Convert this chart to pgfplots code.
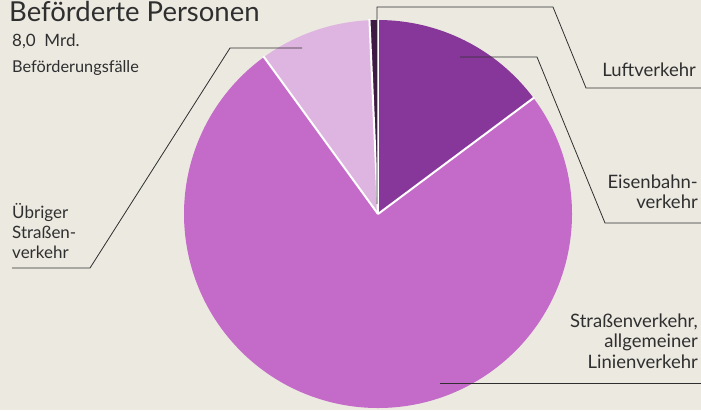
\documentclass[border=0pt]{standalone}
\usepackage{pgfplots}
\pgfplotsset{compat=1.18}
\usepackage{pgfplotstable}
\usepackage{fontspec}
\setmainfont{Lato}

\definecolor{paper}{HTML}{ECE9E1}
\definecolor{cLuft}{HTML}{3E1A45}
\definecolor{cBahn}{HTML}{87379A}
\definecolor{cStr}{HTML}{C46BC9}
\definecolor{cUeb}{HTML}{DEB5E0}
\definecolor{ink}{HTML}{2F2F2F}

% shares in percent, clockwise from 12 o'clock
\pgfplotstableread{
part share
Eisenbahn 14.8
Strassen 75.2
Uebriger 9.3
Luft 0.7
}\pietable

\pgfplotstablegetelem{0}{share}\of\pietable \let\sA\pgfplotsretval
\pgfplotstablegetelem{1}{share}\of\pietable \let\sB\pgfplotsretval
\pgfplotstablegetelem{2}{share}\of\pietable \let\sC\pgfplotsretval
\pgfplotstablegetelem{3}{share}\of\pietable \let\sD\pgfplotsretval
\pgfmathsetmacro\aO{90}
\pgfmathsetmacro\aA{\aO-3.6*\sA}
\pgfmathsetmacro\aB{\aA-3.6*\sB}
\pgfmathsetmacro\aC{\aB-3.6*\sC}
\pgfmathsetmacro\aD{\aC-3.6*\sD}

\newcommand\lbl{\fontsize{18.5}{22}\selectfont}
\newcommand\lbll{\fontsize{17}{20}\selectfont}

\begin{document}
\begin{tikzpicture}
\begin{axis}[
    x=1pt, y=1pt,
    xmin=0, xmax=701, ymin=0, ymax=410,
    y dir=reverse,
    hide axis,
    clip=false,
]
% background
\fill[paper] (axis cs:0,0) rectangle (axis cs:701,410);

% wedges
\fill[cBahn] (axis cs:378,214) -- ++(\aO:194pt) arc[start angle=\aO, end angle=\aA, radius=194pt] -- cycle;
\fill[cStr]  (axis cs:378,214) -- ++(\aA:194pt) arc[start angle=\aA, end angle=\aB, radius=194pt] -- cycle;
\fill[cUeb]  (axis cs:378,214) -- ++(\aB:194pt) arc[start angle=\aB, end angle=\aC, radius=194pt] -- cycle;
\fill[cLuft] (axis cs:378,214) -- ++(\aC:194pt) arc[start angle=\aC, end angle=\aD, radius=194pt] -- cycle;
% white gaps
\draw[white, line width=2pt] (axis cs:378,214) -- ++(\aO:195pt);
\draw[white, line width=2pt] (axis cs:378,214) -- ++(\aA:195pt);
\draw[white, line width=2pt] (axis cs:378,214) -- ++(\aB:195pt);
\draw[white, line width=2pt] (axis cs:378,214) -- ++(\aC:195pt);

% leader lines
\addplot[ink, line width=0.8pt, mark=none] coordinates {(377,204) (377,7) (553,7) (586,88) (701,88)};
\addplot[ink, line width=0.8pt, mark=none] coordinates {(460,57) (537,57) (605,223) (701,223)};
\addplot[ink, line width=0.8pt, mark=none] coordinates {(440,383) (701,383)};
\addplot[ink, line width=0.8pt, mark=none] coordinates {(302,48) (230,48) (90,268) (12,268)};

% titles
\node[anchor=base west, inner sep=0, text=ink, font=\fontsize{27.5}{32}\selectfont] at (axis cs:9,21) {Beförderte Personen};
\node[anchor=base west, inner sep=0, text=ink, font=\fontsize{17}{20}\selectfont] at (axis cs:12,46) {8,0\ \ Mrd.};
\node[anchor=base west, inner sep=0, text=ink, font=\fontsize{16.3}{20}\selectfont] at (axis cs:12,72) {Beförderungsfälle};

% labels
\node[anchor=base east, inner sep=0, text=ink, font=\lbl] at (axis cs:696,76) {Luftverkehr};
\node[anchor=base east, inner sep=0, text=ink, font=\lbl] at (axis cs:698,188) {Eisenbahn-};
\node[anchor=base east, inner sep=0, text=ink, font=\lbl] at (axis cs:698,208) {verkehr};
\node[anchor=base east, inner sep=0, text=ink, font=\lbl] at (axis cs:698,327) {Straßenverkehr,};
\node[anchor=base east, inner sep=0, text=ink, font=\lbl] at (axis cs:698,347) {allgemeiner};
\node[anchor=base east, inner sep=0, text=ink, font=\lbl] at (axis cs:698,368) {Linienverkehr};
\node[anchor=base west, inner sep=0, text=ink, font=\lbll] at (axis cs:12,218) {Übriger};
\node[anchor=base west, inner sep=0, text=ink, font=\lbll] at (axis cs:12,238) {Straßen-};
\node[anchor=base west, inner sep=0, text=ink, font=\lbll] at (axis cs:12,258) {verkehr};
\end{axis}
\pgfresetboundingbox
\path[use as bounding box] (current axis.south west) rectangle (current axis.north east);
\end{tikzpicture}
\end{document}
